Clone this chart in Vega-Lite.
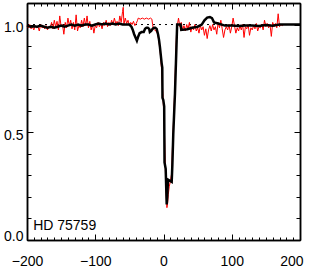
{
  "$schema": "https://vega.github.io/schema/vega-lite/v6.json",
  "width": 273,
  "height": 237,
  "autosize": "none",
  "padding": {"left": 27, "top": 3, "right": 11, "bottom": 33},
  "background": "white",
  "config": {
    "view": {"stroke": null},
    "axis": {
      "grid": false,
      "title": null,
      "domainColor": "black",
      "domainWidth": 1.5,
      "tickColor": "black",
      "tickWidth": 1,
      "labelColor": "black",
      "labelFont": "Liberation Sans",
      "labelFontSize": 14,
      "labelOverlap": false
    }
  },
  "datasets": {
    "red": [
      {"v": -200, "f": 0.995}, {"v": -198, "f": 0.985}, {"v": -196, "f": 1.0}, {"v": -194, "f": 0.98}, {"v": -192, "f": 0.99},
      {"v": -190, "f": 0.975}, {"v": -188, "f": 0.995}, {"v": -186, "f": 0.985}, {"v": -184, "f": 0.99}, {"v": -182, "f": 0.97},
      {"v": -180, "f": 1.0}, {"v": -178, "f": 0.985}, {"v": -176, "f": 0.99}, {"v": -174, "f": 0.98}, {"v": -172, "f": 0.995},
      {"v": -170, "f": 0.975}, {"v": -168, "f": 0.99}, {"v": -166, "f": 0.985}, {"v": -164, "f": 1.01}, {"v": -162, "f": 0.98},
      {"v": -160, "f": 1.02}, {"v": -158, "f": 0.99}, {"v": -156, "f": 1.015}, {"v": -154, "f": 0.975}, {"v": -152, "f": 1.04},
      {"v": -150, "f": 0.99}, {"v": -148, "f": 1.0}, {"v": -146, "f": 0.955}, {"v": -144, "f": 1.01}, {"v": -142, "f": 0.985},
      {"v": -140, "f": 1.03}, {"v": -138, "f": 0.995}, {"v": -136, "f": 1.02}, {"v": -134, "f": 0.98}, {"v": -132, "f": 1.01},
      {"v": -130, "f": 0.975}, {"v": -128, "f": 1.045}, {"v": -126, "f": 0.97}, {"v": -124, "f": 0.995}, {"v": -122, "f": 0.985},
      {"v": -120, "f": 1.02}, {"v": -118, "f": 0.99}, {"v": -116, "f": 1.03}, {"v": -114, "f": 0.995}, {"v": -112, "f": 1.04},
      {"v": -110, "f": 0.985}, {"v": -108, "f": 1.015}, {"v": -106, "f": 0.975}, {"v": -104, "f": 1.0}, {"v": -102, "f": 0.96},
      {"v": -100, "f": 0.995}, {"v": -98, "f": 0.985}, {"v": -96, "f": 1.01}, {"v": -94, "f": 0.99}, {"v": -92, "f": 1.005},
      {"v": -90, "f": 0.98}, {"v": -88, "f": 1.01}, {"v": -86, "f": 0.995}, {"v": -84, "f": 1.02}, {"v": -82, "f": 0.99},
      {"v": -80, "f": 1.01}, {"v": -78, "f": 0.995}, {"v": -76, "f": 1.02}, {"v": -74, "f": 1.0}, {"v": -72, "f": 1.03},
      {"v": -70, "f": 1.005}, {"v": -68, "f": 1.015}, {"v": -66, "f": 0.995}, {"v": -64, "f": 1.04}, {"v": -62, "f": 1.01},
      {"v": -60, "f": 1.06}, {"v": -59, "f": 1.08}, {"v": -58, "f": 1.0}, {"v": -56, "f": 1.03}, {"v": -54, "f": 1.005},
      {"v": -52, "f": 1.02}, {"v": -50, "f": 0.995}, {"v": -48, "f": 1.01}, {"v": -46, "f": 1.0}, {"v": -44, "f": 1.015},
      {"v": -42, "f": 0.995}, {"v": -40, "f": 1.005}, {"v": -38, "f": 1.02}, {"v": -37, "f": 1.03}, {"v": -34, "f": 1.025},
      {"v": -31, "f": 1.03}, {"v": -28, "f": 1.025}, {"v": -25, "f": 1.03}, {"v": -22, "f": 1.025}, {"v": -19, "f": 1.03},
      {"v": -17, "f": 1.025}, {"v": -16, "f": 1.0}, {"v": -15, "f": 0.98}, {"v": -13, "f": 0.975}, {"v": -11, "f": 0.97},
      {"v": -9, "f": 0.96}, {"v": -7, "f": 0.93}, {"v": -5, "f": 0.88}, {"v": -3, "f": 0.8}, {"v": -1, "f": 0.68},
      {"v": 1, "f": 0.55}, {"v": 2, "f": 0.42}, {"v": 3, "f": 0.3}, {"v": 4, "f": 0.2}, {"v": 5, "f": 0.15},
      {"v": 6, "f": 0.17}, {"v": 7, "f": 0.21}, {"v": 8.5, "f": 0.25}, {"v": 10, "f": 0.27}, {"v": 12, "f": 0.31},
      {"v": 13, "f": 0.42}, {"v": 14, "f": 0.5}, {"v": 15, "f": 0.58}, {"v": 16, "f": 0.66}, {"v": 17, "f": 0.75},
      {"v": 18, "f": 0.86}, {"v": 19, "f": 0.95}, {"v": 20, "f": 0.99}, {"v": 22, "f": 1.03}, {"v": 24, "f": 0.99},
      {"v": 26, "f": 1.01}, {"v": 28, "f": 0.975}, {"v": 30, "f": 0.995}, {"v": 32, "f": 0.97}, {"v": 34, "f": 1.0},
      {"v": 36, "f": 0.98}, {"v": 38, "f": 1.01}, {"v": 40, "f": 0.965}, {"v": 42, "f": 0.99}, {"v": 44, "f": 0.975},
      {"v": 46, "f": 1.0}, {"v": 48, "f": 0.97}, {"v": 50, "f": 0.985}, {"v": 52, "f": 0.96}, {"v": 54, "f": 0.995},
      {"v": 56, "f": 0.975}, {"v": 58, "f": 0.99}, {"v": 60, "f": 0.95}, {"v": 62, "f": 0.98}, {"v": 64, "f": 0.935},
      {"v": 66, "f": 0.975}, {"v": 68, "f": 0.995}, {"v": 70, "f": 0.97}, {"v": 72, "f": 1.0}, {"v": 74, "f": 0.975},
      {"v": 76, "f": 0.99}, {"v": 78, "f": 0.955}, {"v": 80, "f": 1.01}, {"v": 82, "f": 0.985}, {"v": 84, "f": 1.02},
      {"v": 86, "f": 0.98}, {"v": 88, "f": 0.94}, {"v": 90, "f": 0.975}, {"v": 92, "f": 0.99}, {"v": 94, "f": 0.975},
      {"v": 96, "f": 1.0}, {"v": 98, "f": 0.96}, {"v": 100, "f": 0.99}, {"v": 102, "f": 1.03}, {"v": 104, "f": 0.995},
      {"v": 106, "f": 0.96}, {"v": 108, "f": 0.985}, {"v": 110, "f": 0.97}, {"v": 112, "f": 0.995}, {"v": 114, "f": 0.975},
      {"v": 116, "f": 1.0}, {"v": 118, "f": 0.94}, {"v": 120, "f": 0.99}, {"v": 122, "f": 0.98}, {"v": 124, "f": 1.0},
      {"v": 126, "f": 0.95}, {"v": 128, "f": 0.985}, {"v": 130, "f": 0.975}, {"v": 132, "f": 0.995}, {"v": 134, "f": 0.98},
      {"v": 136, "f": 1.005}, {"v": 138, "f": 0.97}, {"v": 140, "f": 0.99}, {"v": 142, "f": 0.985}, {"v": 144, "f": 1.0},
      {"v": 146, "f": 0.975}, {"v": 148, "f": 1.02}, {"v": 150, "f": 0.99}, {"v": 152, "f": 1.005}, {"v": 154, "f": 0.985},
      {"v": 156, "f": 1.0}, {"v": 158, "f": 0.945}, {"v": 160, "f": 1.01}, {"v": 162, "f": 0.99}, {"v": 164, "f": 1.005},
      {"v": 166, "f": 0.985}, {"v": 168, "f": 1.05}, {"v": 170, "f": 0.99}, {"v": 172, "f": 1.0}, {"v": 174, "f": 0.995},
      {"v": 176, "f": 1.0}
    ],
    "black": [
      {"v": -200, "f": 0.995}, {"v": -195, "f": 0.99}, {"v": -190, "f": 0.992}, {"v": -185, "f": 0.99}, {"v": -180, "f": 0.995},
      {"v": -175, "f": 0.99}, {"v": -170, "f": 0.985}, {"v": -165, "f": 0.99}, {"v": -160, "f": 0.985}, {"v": -155, "f": 0.99},
      {"v": -150, "f": 0.995}, {"v": -145, "f": 0.99}, {"v": -140, "f": 0.995}, {"v": -135, "f": 1.0}, {"v": -130, "f": 0.995},
      {"v": -125, "f": 1.0}, {"v": -120, "f": 0.995}, {"v": -115, "f": 1.0}, {"v": -110, "f": 1.0}, {"v": -105, "f": 0.995},
      {"v": -100, "f": 1.0}, {"v": -95, "f": 1.005}, {"v": -90, "f": 1.0}, {"v": -85, "f": 1.005}, {"v": -80, "f": 1.0},
      {"v": -75, "f": 1.005}, {"v": -70, "f": 1.0}, {"v": -65, "f": 1.005}, {"v": -60, "f": 1.0}, {"v": -55, "f": 1.0},
      {"v": -50, "f": 1.0}, {"v": -47, "f": 0.99}, {"v": -45, "f": 0.975}, {"v": -43, "f": 0.955}, {"v": -41, "f": 0.94},
      {"v": -39, "f": 0.925}, {"v": -37, "f": 0.945}, {"v": -35, "f": 0.96}, {"v": -32, "f": 0.965}, {"v": -29, "f": 0.965},
      {"v": -27, "f": 0.98}, {"v": -25, "f": 0.985}, {"v": -23, "f": 0.985}, {"v": -21, "f": 0.98}, {"v": -20, "f": 0.965},
      {"v": -18, "f": 0.97}, {"v": -16, "f": 0.98}, {"v": -14, "f": 0.985}, {"v": -12, "f": 0.985}, {"v": -10, "f": 0.98},
      {"v": -8, "f": 0.955}, {"v": -6.6, "f": 0.93}, {"v": -5.2, "f": 0.895}, {"v": -2.7, "f": 0.82}, {"v": -1.8, "f": 0.8},
      {"v": -1.5, "f": 0.66}, {"v": -0.3, "f": 0.65}, {"v": 1, "f": 0.62}, {"v": 1.5, "f": 0.36}, {"v": 3.2, "f": 0.33},
      {"v": 4.7, "f": 0.165}, {"v": 5.5, "f": 0.2}, {"v": 6.6, "f": 0.28}, {"v": 12, "f": 0.27}, {"v": 13, "f": 0.35},
      {"v": 14.3, "f": 0.49}, {"v": 16.8, "f": 0.68}, {"v": 19.3, "f": 0.93}, {"v": 20, "f": 1.0}, {"v": 25, "f": 1.0},
      {"v": 26, "f": 0.975}, {"v": 35, "f": 0.978}, {"v": 42, "f": 0.985}, {"v": 50, "f": 0.99}, {"v": 56, "f": 1.0},
      {"v": 60, "f": 1.02}, {"v": 64, "f": 1.032}, {"v": 68, "f": 1.035}, {"v": 71, "f": 1.03}, {"v": 74, "f": 1.01},
      {"v": 80, "f": 1.005}, {"v": 90, "f": 0.995}, {"v": 100, "f": 0.995}, {"v": 110, "f": 0.993}, {"v": 120, "f": 0.995},
      {"v": 130, "f": 0.995}, {"v": 140, "f": 0.993}, {"v": 150, "f": 0.998}, {"v": 160, "f": 0.995}, {"v": 170, "f": 1.0},
      {"v": 180, "f": 1.0}, {"v": 190, "f": 1.0}, {"v": 200, "f": 1.0}
    ]
  },
  "resolve": {"axis": {"x": "independent", "y": "independent"}},
  "layer": [
    {
      "data": {"values": [{}]},
      "mark": {"type": "rule", "color": "black", "strokeWidth": 1, "strokeDash": [2, 4]},
      "encoding": {
        "x": {"datum": -200, "type": "quantitative", "scale": {"domain": [-200, 200], "nice": false},
          "axis": {"orient": "bottom", "labels": false, "tickSize": -3, "domain": true,
            "values": [-200,-190,-180,-170,-160,-150,-140,-130,-120,-110,-100,-90,-80,-70,-60,-50,-40,-30,-20,-10,0,10,20,30,40,50,60,70,80,90,100,110,120,130,140,150,160,170,180,190,200]}},
        "x2": {"datum": 200},
        "y": {"datum": 1, "type": "quantitative", "scale": {"domain": [0, 1.1], "nice": false},
          "axis": {"orient": "left", "labels": false, "tickSize": -4,
            "values": [0, 0.1, 0.2, 0.3, 0.4, 0.5, 0.6, 0.7, 0.8, 0.9, 1.0]}}
      }
    },
    {
      "data": {"name": "red"},
      "mark": {"type": "line", "color": "#ff0000", "strokeWidth": 1},
      "encoding": {
        "x": {
          "field": "v", "type": "quantitative",
          "scale": {"domain": [-200, 200], "nice": false},
          "axis": {
            "orient": "bottom",
            "values": [-200, -100, 0, 100, 200],
            "tickSize": -6,
            "labelPadding": 20,
            "labelFlush": false,
            "labelAlign": {"condition": {"test": "datum.value == 200", "value": "right"}, "value": "center"},
            "labelOffset": {"condition": {"test": "datum.value == 200", "value": 3}, "value": 0}
          }
        },
        "y": {
          "field": "f", "type": "quantitative",
          "scale": {"domain": [0, 1.1], "nice": false},
          "axis": {
            "orient": "left",
            "values": [0, 0.5, 1.0],
            "format": ".1f",
            "tickSize": -6,
            "labelPadding": 10,
            "labelFlush": true,
            "labelOffset": 3
          }
        }
      }
    },
    {
      "data": {"name": "black"},
      "mark": {"type": "line", "color": "black", "strokeWidth": 2.5},
      "encoding": {
        "x": {
          "field": "v", "type": "quantitative",
          "scale": {"domain": [-200, 200], "nice": false},
          "axis": {
            "orient": "top",
            "values": [-200,-190,-180,-170,-160,-150,-140,-130,-120,-110,-100,-90,-80,-70,-60,-50,-40,-30,-20,-10,0,10,20,30,40,50,60,70,80,90,100,110,120,130,140,150,160,170,180,190,200],
            "labels": false,
            "tickSize": -3
          }
        },
        "y": {
          "field": "f", "type": "quantitative",
          "scale": {"domain": [0, 1.1], "nice": false},
          "axis": {
            "orient": "right",
            "values": [0, 0.1, 0.2, 0.3, 0.4, 0.5, 0.6, 0.7, 0.8, 0.9, 1.0],
            "labels": false,
            "tickSize": -4
          }
        }
      }
    },
    {
      "data": {"values": [{}]},
      "mark": {"type": "text", "align": "left", "baseline": "middle", "font": "Liberation Sans", "fontSize": 14, "color": "black"},
      "encoding": {
        "text": {"value": "HD 75759"},
        "x": {"datum": -191, "type": "quantitative", "scale": {"domain": [-200, 200], "nice": false},
          "axis": {"orient": "top", "labels": false, "tickSize": -6, "values": [-200, -100, 0, 100, 200]}},
        "y": {"datum": 0.066, "type": "quantitative", "scale": {"domain": [0, 1.1], "nice": false},
          "axis": {"orient": "right", "labels": false, "tickSize": -6, "values": [0, 0.5, 1.0]}}
      }
    }
  ]
}
